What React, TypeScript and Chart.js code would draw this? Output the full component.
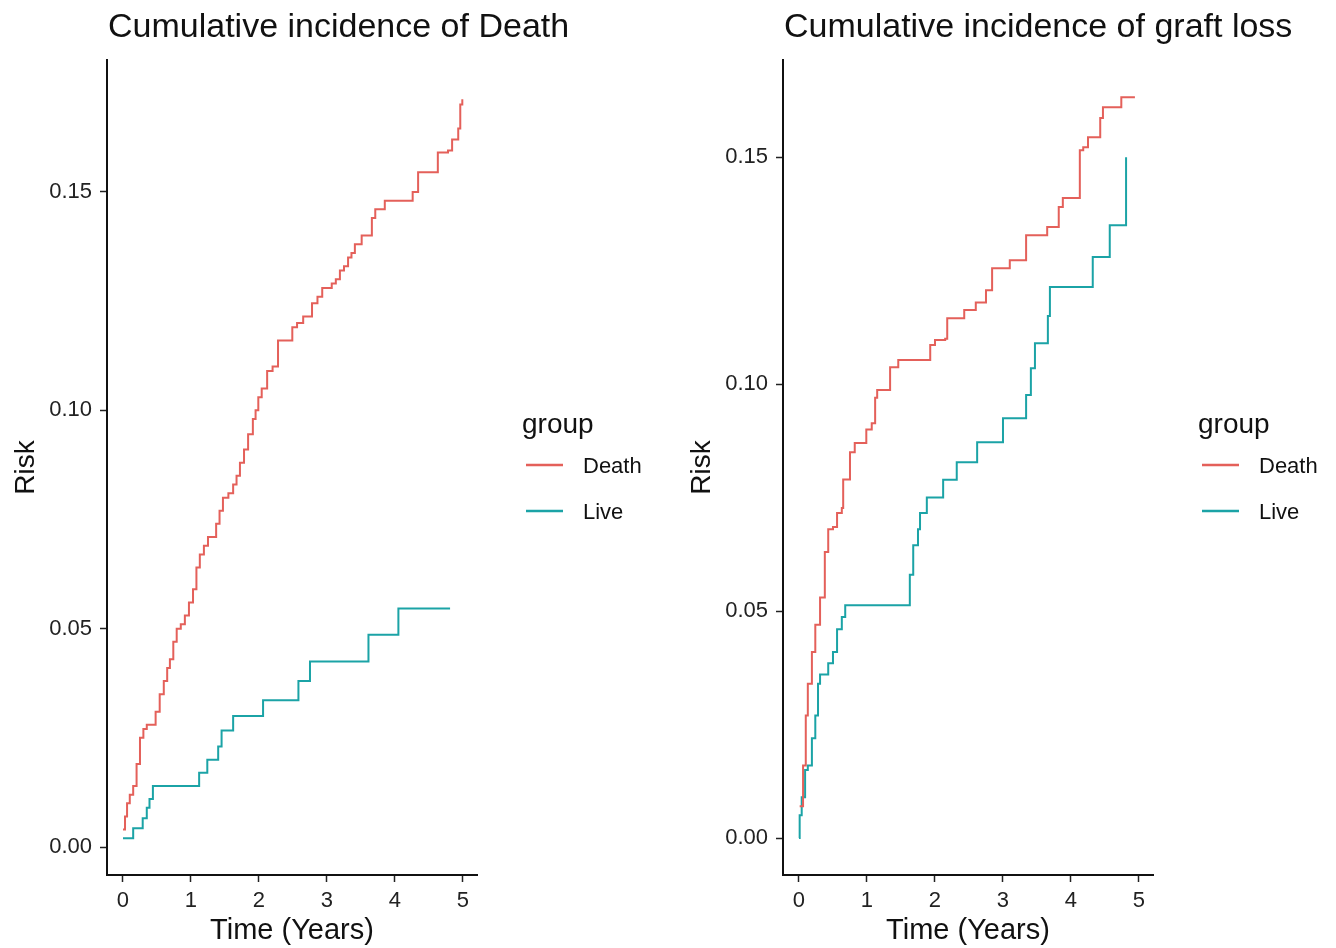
import React, { useEffect, useRef } from "react";
import { Chart, registerables } from "chart.js";

Chart.register(...registerables);

const FONT = '"Liberation Sans", Arial, Helvetica, sans-serif';
const RED = "#E4605A";
const TEAL = "#1BA3A6";
const INK = "#111111";
const TICK_INK = "#222222";

// ---- text ----
const panelTitles = ["Cumulative incidence of Death", "Cumulative incidence of graft loss"];
const xAxisTitle = "Time (Years)";
const yAxisTitle = "Risk";
const legendTitle = "group";
const groupNames = ["Death", "Live"];
const groupColors = [RED, TEAL];

// ---- ticks ----
const xTicks = [0, 1, 2, 3, 4, 5];
const yTicks = [0, 0.05, 0.1, 0.15];

// ---- axis ranges ----
const xRange = [-0.235, 5.206];
const deathPanelYRange = [-0.0064, 0.1802];
const graftPanelYRange = [-0.00815, 0.1714];

// ---- Panel 1: Cumulative incidence of Death ----
const deathPanelDeathTime = [
  0.0, 0.03, 0.06, 0.1, 0.15, 0.2, 0.25, 0.3, 0.35, 0.48, 0.54, 0.6, 0.65, 0.69, 0.74, 0.79,
  0.85, 0.91, 0.97, 1.03, 1.08, 1.13, 1.19, 1.25, 1.37, 1.42, 1.47, 1.55, 1.62, 1.67, 1.72,
  1.78, 1.84, 1.91, 1.95, 1.99, 2.04, 2.12, 2.2, 2.28, 2.49, 2.56, 2.65, 2.78, 2.86, 2.93,
  3.07, 3.13, 3.19, 3.25, 3.31, 3.36, 3.41, 3.51, 3.66, 3.71, 3.85, 4.26, 4.34, 4.63, 4.78,
  4.84, 4.93, 4.96, 4.99,
];
const deathPanelDeathRisk = [
  0.004, 0.007, 0.01, 0.012, 0.014, 0.019, 0.025, 0.027, 0.028, 0.031, 0.035, 0.038, 0.041,
  0.043, 0.047, 0.05, 0.051, 0.053, 0.056, 0.059, 0.064, 0.067, 0.069, 0.071, 0.074, 0.077,
  0.08, 0.081, 0.083, 0.085, 0.088, 0.091, 0.0945, 0.098, 0.1, 0.103, 0.105, 0.109, 0.11,
  0.116, 0.119, 0.12, 0.1215, 0.1245, 0.126, 0.128, 0.129, 0.13, 0.132, 0.133, 0.135, 0.136,
  0.138, 0.14, 0.144, 0.146, 0.148, 0.15, 0.1545, 0.159, 0.1595, 0.162, 0.1645, 0.17, 0.1712,
];
const deathPanelLiveTime = [
  0.0, 0.15, 0.29, 0.35, 0.39, 0.44, 1.12, 1.24, 1.4, 1.45, 1.62, 2.06, 2.58, 2.75, 3.61, 4.05, 4.81,
];
const deathPanelLiveRisk = [
  0.002, 0.0043, 0.0066, 0.009, 0.011, 0.014, 0.017, 0.02, 0.023, 0.0267, 0.03, 0.0336, 0.038,
  0.0425, 0.0486, 0.0546, 0.0546,
];

// ---- Panel 2: Cumulative incidence of graft loss ----
const graftPanelDeathTime = [
  0.01, 0.06, 0.1, 0.13, 0.19, 0.24, 0.31, 0.38, 0.43, 0.5, 0.56, 0.63, 0.65, 0.75, 0.82, 0.99,
  1.07, 1.12, 1.15, 1.34, 1.46, 1.93, 2.0, 2.15, 2.18, 2.43, 2.6, 2.75, 2.84, 3.1, 3.34, 3.65,
  3.82, 3.88, 4.13, 4.18, 4.25, 4.43, 4.47, 4.74, 4.94,
];
const graftPanelDeathRisk = [
  0.007, 0.016, 0.027, 0.034, 0.041, 0.047, 0.053, 0.063, 0.068, 0.0685, 0.0716, 0.0727, 0.079,
  0.085, 0.087, 0.09, 0.0914, 0.097, 0.0987, 0.1037, 0.1053, 0.1086, 0.1097, 0.11, 0.1145,
  0.1163, 0.118, 0.1207, 0.1255, 0.1273, 0.1328, 0.1346, 0.139, 0.141, 0.1515, 0.1522, 0.1544,
  0.1586, 0.161, 0.1632, 0.1632,
];
const graftPanelLiveTime = [
  0.0, 0.01, 0.04, 0.09, 0.13, 0.19, 0.24, 0.28, 0.31, 0.43, 0.5, 0.56, 0.63, 0.68, 1.63, 1.68,
  1.75, 1.78, 1.88, 2.12, 2.32, 2.62, 3.0, 3.34, 3.41, 3.47, 3.66, 3.69, 4.32, 4.57, 4.81,
];
const graftPanelLiveRisk = [
  0.0, 0.005, 0.009, 0.015, 0.016, 0.022, 0.027, 0.034, 0.036, 0.0385, 0.041, 0.046, 0.0487,
  0.0513, 0.058, 0.0645, 0.068, 0.0716, 0.075, 0.0789, 0.0828, 0.0872, 0.0925, 0.0976, 0.1035,
  0.109, 0.115, 0.1214, 0.128, 0.135, 0.15,
];

const panels = [
  {
    title: panelTitles[0],
    yRange: deathPanelYRange,
    series: [
      { t: deathPanelDeathTime, v: deathPanelDeathRisk },
      { t: deathPanelLiveTime, v: deathPanelLiveRisk },
    ],
  },
  {
    title: panelTitles[1],
    yRange: graftPanelYRange,
    series: [
      { t: graftPanelDeathTime, v: graftPanelDeathRisk },
      { t: graftPanelLiveTime, v: graftPanelLiveRisk },
    ],
  },
];

const decorPlugin = {
  id: "decor",
  afterDraw(chart: any, _args: any, opts: any) {
    const { ctx, chartArea } = chart;
    ctx.save();
    // plot title
    ctx.fillStyle = INK;
    ctx.textAlign = "left";
    ctx.textBaseline = "middle";
    ctx.font = `34px ${FONT}`;
    ctx.fillText(opts.title, chartArea.left + 1, 28);
    // legend
    const cy = (chartArea.top + chartArea.bottom) / 2;
    const lx = chartArea.right + 45;
    ctx.font = `28px ${FONT}`;
    ctx.textBaseline = "alphabetic";
    ctx.fillText(legendTitle, lx, cy - 34.5);
    ctx.font = `22px ${FONT}`;
    ctx.textBaseline = "middle";
    groupNames.forEach((name, i) => {
      const y = cy - 2.5 + i * 46;
      ctx.strokeStyle = groupColors[i];
      ctx.lineWidth = 2.5;
      ctx.beginPath();
      ctx.moveTo(lx + 4, y);
      ctx.lineTo(lx + 41, y);
      ctx.stroke();
      ctx.fillStyle = INK;
      ctx.fillText(name, lx + 61, y + 2);
    });
    ctx.restore();
  },
};

function Panel({ index, left, width }: { index: number; left: number; width: number }) {
  const ref = useRef<HTMLCanvasElement>(null);
  useEffect(() => {
    const cfg = panels[index];
    Chart.defaults.font.family = FONT;
    const chart = new Chart(ref.current as HTMLCanvasElement, {
      type: "line",
      data: {
        datasets: cfg.series.map((s, i) => ({
          label: groupNames[i],
          data: s.t.map((t, k) => ({ x: t, y: s.v[k] })),
          borderColor: groupColors[i],
          backgroundColor: groupColors[i],
          borderWidth: 2,
          pointRadius: 0,
          stepped: true,
          fill: false,
          tension: 0,
        })),
      },
      options: {
        responsive: false,
        animation: false,
        devicePixelRatio: 1,
        layout: { padding: { top: 60, right: width - 477, left: 0, bottom: 0 } },
        plugins: {
          legend: { display: false },
          title: { display: false },
          tooltip: { enabled: false },
          decor: { title: cfg.title },
        } as any,
        scales: {
          x: {
            type: "linear",
            min: xRange[0],
            max: xRange[1],
            afterBuildTicks: (s: any) => {
              s.ticks = xTicks.map((v) => ({ value: v }));
            },
            afterFit: (s: any) => {
              s.height = 73;
            },
            grid: {
              display: true,
              drawOnChartArea: false,
              drawTicks: true,
              tickLength: 7,
              tickColor: TICK_INK,
              tickWidth: 1.5,
            },
            border: { display: true, color: INK, width: 2 },
            ticks: {
              color: TICK_INK,
              font: { size: 22, family: FONT },
              padding: 6,
              maxRotation: 0,
              autoSkip: false,
              callback: (v: any) => String(v),
            },
            title: {
              display: true,
              text: xAxisTitle,
              color: INK,
              font: { size: 29, family: FONT },
              padding: { top: 0, bottom: 0 },
            },
          },
          y: {
            type: "linear",
            min: cfg.yRange[0],
            max: cfg.yRange[1],
            afterBuildTicks: (s: any) => {
              s.ticks = yTicks.map((v) => ({ value: v }));
            },
            afterFit: (s: any) => {
              s.width = 107;
            },
            grid: {
              display: true,
              drawOnChartArea: false,
              drawTicks: true,
              tickLength: 7,
              tickColor: TICK_INK,
              tickWidth: 1.5,
            },
            border: { display: true, color: INK, width: 2 },
            ticks: {
              color: TICK_INK,
              font: { size: 22, family: FONT },
              padding: 8,
              autoSkip: false,
              callback: (v: any) => Number(v).toFixed(2),
            },
            title: {
              display: true,
              text: yAxisTitle,
              color: INK,
              font: { size: 28, family: FONT },
              padding: { top: 9, bottom: 0 },
            },
          },
        },
      },
      plugins: [decorPlugin],
    } as any);
    return () => chart.destroy();
  }, [index, width]);
  return (
    <canvas
      ref={ref}
      width={width}
      height={948}
      style={{ position: "absolute", left, top: 0, width, height: 948 }}
    />
  );
}

export default function App() {
  return (
    <div style={{ position: "absolute", left: 0, top: 0, width: 1336, height: 948, background: "#fff" }}>
      <Panel index={0} left={0} width={676} />
      <Panel index={1} left={676} width={660} />
    </div>
  );
}
